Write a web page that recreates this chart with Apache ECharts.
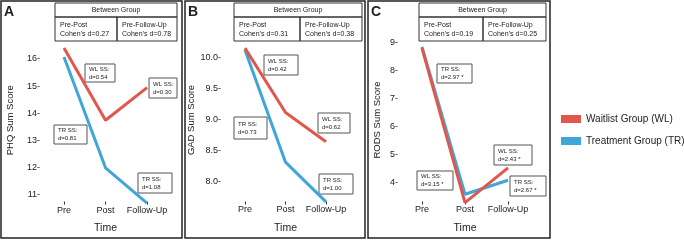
<!DOCTYPE html>
<html>
<head>
<meta charset="utf-8">
<script src="https://cdn.jsdelivr.net/npm/echarts@6/dist/echarts.min.js"></script>
<style>
html, body { margin: 0; padding: 0; background: #fff; }
#chart { width: 684px; height: 240px; }
</style>
</head>
<body>
<div id="chart"></div>
<script>
// time points on the x axis
var timePoints = ['Pre', 'Post', 'Follow-Up'];
// PHQ panel (A)
var phqWaitlist = [16.4, 13.75, 14.95];
var phqTreatment = [16.07, 12.0, 10.7];
var phqTicks = [11, 12, 13, 14, 15, 16];
// GAD panel (B)
var gadWaitlist = [10.16, 9.12, 8.65];
var gadTreatment = [10.13, 8.32, 7.68];
var gadTicks = [8.0, 8.5, 9.0, 9.5, 10.0];
// RODS panel (C)
var rodsWaitlist = [8.82, 3.3, 4.54];
var rodsTreatment = [8.86, 3.6, 4.1];
var rodsTicks = [4, 5, 6, 7, 8, 9];
// between group effect sizes
var cohenPrePost = ['0.27', '0.31', '0.19'];
var cohenPreFollow = ['0.78', '0.38', '0.25'];
// within group effect size notes
var notesA = ['WL SS:\nd=0.54', 'WL SS:\nd=0.30', 'TR SS:\nd=0.81', 'TR SS:\nd=1.08'];
var notesB = ['WL SS:\nd=0.42', 'WL SS:\nd=0.62', 'TR SS:\nd=0.73', 'TR SS:\nd=1.00'];
var notesC = ['TR SS:\nd=2.97 *', 'WL SS:\nd=3.15 *', 'WL SS:\nd=2.43 *', 'TR SS:\nd=2.67 *'];

var FONT = '"Liberation Sans", Arial, Helvetica, sans-serif';
var RED = '#e2574c';
var BLUE = '#3fa6da';
var WL_NAME = 'Waitlist Group (WL)';
var TR_NAME = 'Treatment Group (TR)';

var panels = [
    { letter: 'A', name: 'PHQ Sum Score', wl: phqWaitlist, tr: phqTreatment, ticks: phqTicks, digits: 0,
      grid: { left: 64, width: 83, top: 31.8, height: 176.8 }, min: 10.5, max: 17, offset: -7, nameGap: 48.5,
      frame: [1, 1, 181, 237], table: [55, 117, 177],
      boxes: [[85, 64, 30, 18], [149, 78, 28, 20], [54, 125, 33, 19], [138, 173, 34, 20]], notes: notesA },
    { letter: 'B', name: 'GAD Sum Score', wl: gadWaitlist, tr: gadTreatment, ticks: gadTicks, digits: 1,
      grid: { left: 245, width: 81, top: 27, height: 186 }, min: 7.5, max: 10.5, offset: -11.5, nameGap: 45.5,
      frame: [185, 1, 180, 237], table: [234, 300, 362],
      boxes: [[264, 55, 34, 20], [318, 113, 32, 20], [234, 117, 33, 22], [319, 174, 34, 20]], notes: notesB },
    { letter: 'C', name: 'RODS Sum Score', wl: rodsWaitlist, tr: rodsTreatment, ticks: rodsTicks, digits: 0,
      grid: { left: 422, width: 86, top: 29, height: 182 }, min: 3, max: 9.5, offset: -9.5, nameGap: 39.5,
      frame: [368, 1, 182, 237], table: [419, 483, 546],
      boxes: [[437, 64, 35, 19], [417, 171, 36, 19], [494, 145, 38, 20], [510, 176, 36, 20]], notes: notesC }
];

var grids = [], xAxes = [], yAxes = [], series = [], graphics = [];

function rect(x, y, w, h, lw, color) {
    return {
        type: 'rect', silent: true,
        shape: { x: x, y: y, width: w, height: h },
        style: { fill: 'none', stroke: color, lineWidth: lw }
    };
}
function text(x, y, str, size, align, extra) {
    var el = {
        type: 'text', silent: true, x: x, y: y,
        style: { text: str, fontSize: size, fontFamily: FONT, fill: '#222',
                 align: align || 'left', verticalAlign: 'middle', lineHeight: size + 2 }
    };
    if (extra) { for (var k in extra) { el.style[k] = extra[k]; } }
    return el;
}

panels.forEach(function (p, i) {
    grids.push(p.grid);
    xAxes.push({
        type: 'category', gridIndex: i, data: timePoints, boundaryGap: false,
        offset: p.offset,
        axisLine: { show: false },
        axisTick: { show: true, length: 3, lineStyle: { color: '#333', width: 1 } },
        axisLabel: { fontSize: 9, color: '#222', fontFamily: FONT, margin: 4, interval: 0 },
        name: 'Time', nameLocation: 'middle', nameGap: 21,
        nameTextStyle: { fontSize: 10.5, color: '#222', fontFamily: FONT }
    });
    yAxes.push({
        type: 'value', gridIndex: i, min: p.min, max: p.max, interval: 0.5,
        axisLine: { show: false }, axisTick: { show: false }, splitLine: { show: false },
        axisLabel: {
            fontSize: 9, color: '#222', fontFamily: FONT, margin: 24,
            formatter: function (v) {
                for (var t = 0; t < p.ticks.length; t++) {
                    if (Math.abs(p.ticks[t] - v) < 1e-6) { return v.toFixed(p.digits) + '-'; }
                }
                return '';
            }
        },
        name: p.name, nameLocation: 'middle', nameGap: p.nameGap,
        nameTextStyle: { fontSize: 9.5, color: '#222', fontFamily: FONT }
    });
    // treatment first so the waitlist line sits on top
    series.push({
        name: TR_NAME, type: 'line', xAxisIndex: i, yAxisIndex: i, data: p.tr,
        symbol: 'none', lineStyle: { color: BLUE, width: 3 }, itemStyle: { color: BLUE }
    });
    series.push({
        name: WL_NAME, type: 'line', xAxisIndex: i, yAxisIndex: i, data: p.wl,
        symbol: 'none', lineStyle: { color: RED, width: 3 }, itemStyle: { color: RED }
    });

    // panel frame and letter
    graphics.push(rect(p.frame[0], p.frame[1], p.frame[2], p.frame[3], 1.5, '#222'));
    graphics.push(text(p.frame[0] + 3, 12, p.letter, 14, 'left', { fontWeight: 'bold' }));

    // between group table
    var t = p.table;
    graphics.push(rect(t[0], 3, t[2] - t[0], 14, 1, '#333'));
    graphics.push(rect(t[0], 17, t[1] - t[0], 24, 1, '#333'));
    graphics.push(rect(t[1], 17, t[2] - t[1], 24, 1, '#333'));
    graphics.push(text((t[0] + t[2]) / 2, 10, 'Between Group', 7, 'center'));
    graphics.push(text(t[0] + 5, 29.5, 'Pre-Post\nCohen\u2019s d=' + cohenPrePost[i], 7, 'left', { lineHeight: 9.5 }));
    graphics.push(text(t[1] + 5, 29.5, 'Pre-Follow-Up\nCohen\u2019s d=' + cohenPreFollow[i], 7, 'left', { lineHeight: 9.5 }));

    // within group notes
    p.boxes.forEach(function (b, j) {
        graphics.push(rect(b[0], b[1], b[2], b[3], 1, '#555'));
        graphics.push(text(b[0] + 4, b[1] + b[3] / 2, p.notes[j], 6, 'left', { lineHeight: 8 }));
    });
});

var chart = echarts.init(document.getElementById('chart'));
chart.setOption({
    animation: false,
    grid: grids,
    xAxis: xAxes,
    yAxis: yAxes,
    legend: {
        data: [WL_NAME, TR_NAME], orient: 'vertical', left: 556, top: 109,
        icon: 'rect', itemWidth: 20, itemHeight: 8, itemGap: 12,
        textStyle: { fontSize: 10, color: '#222', fontFamily: FONT }
    },
    series: series,
    graphic: graphics
});
</script>
</body>
</html>
